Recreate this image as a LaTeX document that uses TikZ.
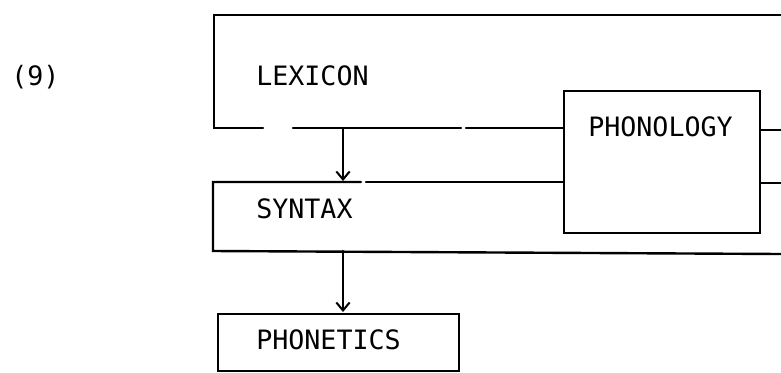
\documentclass[tikz,border=0pt]{standalone}
\usepackage{fontspec}
\setmonofont{DejaVu Sans Mono}
\usetikzlibrary{arrows.meta}
\begin{document}
\begin{tikzpicture}[x=0.75pt,y=-0.75pt,
  ln/.style={line width=1.8pt,line cap=round},
  arr/.style={ln,-{Straight Barb[length=6pt,width=10pt,line width=1.5pt]}},
  lbl/.style={anchor=base west,inner sep=0pt,font=\ttfamily\fontsize{20}{20}\selectfont},
  boxn/.style={draw,line width=1.8pt,inner sep=0pt,anchor=north west}]
\useasboundingbox (0,0) rectangle (781,372);
% labels
\node[lbl] (num) at (11,85) {(9)};
\node[lbl] (lex) at (256,85) {LEXICON};
\node[lbl] (syn) at (256,218) {SYNTAX};
\node[lbl] (phet) at (256,349) {PHONETICS};
\node[lbl] (phol) at (588,136) {PHONOLOGY};
% boxes as nodes
\node[boxn,minimum width=196*0.75pt,minimum height=142*0.75pt] (phon) at (563,90) {};
\node[boxn,minimum width=241*0.75pt,minimum height=57*0.75pt] (phbox) at (217,313) {};
% lexicon frame
\coordinate (lexTR) at (781,15);
\coordinate (lexTL) at (214,15);
\coordinate (lexBL) at (214,128);
\draw[ln] (lexTR) -- (lexTL) -- (lexBL) -- (263,128);
\draw[ln] (293,128) -- (461,128);
\draw[ln] (466,128) -- (phon.west |- 0,128);
\draw[ln] (phon.east |- 0,130) -- (781,130);
% syntax frame
\coordinate (synTL) at (213,182);
\coordinate (synBL) at (213,251);
\coordinate (synBR) at (781,254);
\draw[ln] (361,182) -- (synTL) -- (synBL) -- (synBR);
\draw[ln] (366,182) -- (phon.west |- 0,182);
\draw[ln] (phon.east |- 0,183) -- (781,183);
% arrows
\coordinate (a1s) at (343,128);
\coordinate (a1e) at (343,181);
\coordinate (a2s) at (343,251);
\coordinate (a2e) at (343,312);
\draw[arr] (a1s) -- (a1e);
\draw[arr] (a2s) -- (a2e);
\end{tikzpicture}
\end{document}
